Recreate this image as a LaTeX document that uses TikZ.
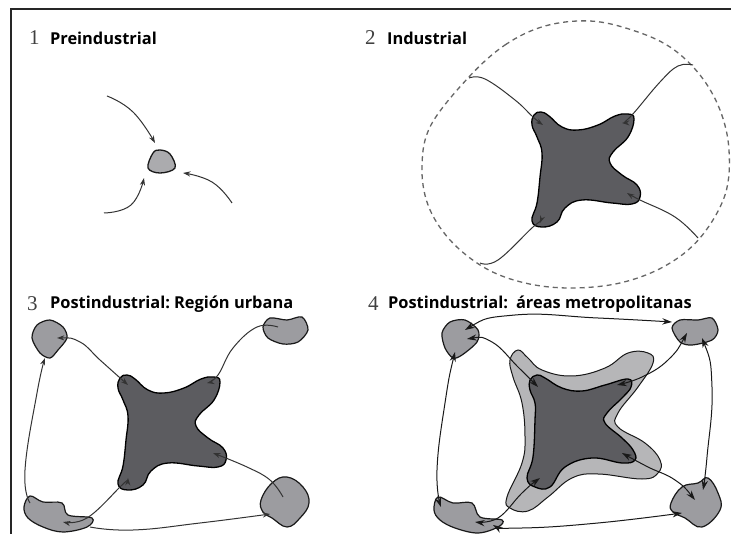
\documentclass[tikz,border=0pt]{standalone}
\usepackage{fontspec}
\setmainfont{Liberation Serif}
\newfontfamily\labfont{Open Sans}
\usetikzlibrary{arrows.meta,positioning}
\definecolor{citydark}{HTML}{5C5C60}
\definecolor{citysat}{HTML}{9C9CA0}
\definecolor{cityring}{HTML}{B6B6B8}
\tikzset{
  num/.style  ={anchor=west, inner sep=0pt, font=\fontsize{21}{21}\selectfont, text=black!75},
  lab/.style  ={anchor=west, inner sep=0pt, font=\labfont\bfseries\fontsize{16.4}{18}\selectfont, text=black},
  core/.style ={draw=black, line width=1.3pt, fill=citydark},
  sat/.style  ={draw=black!90, line width=1.2pt, fill=citysat},
  ring/.style ={draw=black!90, line width=1pt, fill=cityring},
  lnk/.style  ={draw=black!80, line width=1pt},
  ar/.style   ={-{Stealth[length=2.6mm,width=1.8mm]}, lnk},
  bar/.style  ={{Stealth[length=3.4mm,width=2.2mm]}-{Stealth[length=3.4mm,width=2.2mm]}, draw=black!90, line width=1pt},
}
\newcommand{\corecity}{plot[smooth cycle,tension=.75] coordinates {(532,125) (534,115) (541,112) (549,116) (562,127)
  (578,130) (598,125) (615,116) (628,114) (634,119) (628,137) (613,152) (610,163) (622,175) (637,185)
  (640,197) (632,204) (612,203) (582,200) (565,208) (557,222) (542,227) (532,221) (537,203) (540,177)
  (542,153) (537,137)}}
\begin{document}
\begin{tikzpicture}[x=1pt,y=-1pt]
\useasboundingbox (0,0) rectangle (731,534);
\fill[white] (0,0) rectangle (731,534);

% frame
\coordinate (fa) at (11,534); \coordinate (fb) at (11,9); \coordinate (fc) at (731,9);
\draw[black!85, line width=2.4pt] (fa)--(fb)--(fc);

% titles
\node[num] (n1) at (29,38) {1};
\node[lab, right=10pt of n1.east, anchor=west] (t1) {Preindustrial};
\node[num] (n2) at (365,38) {2};
\node[lab, right=11pt of n2.east, anchor=west] (t2) {Industrial};
\node[num] (n3) at (27,304) {3};
\node[lab, right=12pt of n3.east, anchor=west] (t3) {Postindustrial:\hspace{4pt}Región urbana};
\node[num] (n4) at (368,304) {4};
\node[lab, right=9pt of n4.east, anchor=west] (t4) {Postindustrial:\hspace{8pt}áreas metropolitanas};

% 1
\draw[sat, line width=1.3pt, fill=citysat!85] plot[smooth cycle,tension=.6] coordinates {(148,168) (153,153) (160,150) (170,154) (175,168) (160,173)};
\coordinate (p1a) at (107,96);  \coordinate (p1b) at (155,143);
\coordinate (p1c) at (232,203); \coordinate (p1d) at (183,173);
\coordinate (p1e) at (104,213); \coordinate (p1f) at (144,178);
\draw[ar] plot[smooth,tension=.8] coordinates {(p1a) (133,112) (p1b)};
\draw[ar] plot[smooth,tension=.8] coordinates {(p1c) (212,182) (p1d)};
\draw[ar] plot[smooth,tension=.8] coordinates {(p1e) (131,205) (p1f)};

% 2
\draw[core] \corecity;
\draw[black!60, line width=1.3pt, dash pattern=on 5pt off 4pt] plot[smooth cycle,tension=.6] coordinates {(468,78) (505,45)
  (545,26) (590,21) (632,30) (670,47) (700,75) (720,110) (729,150) (725,195) (700,238) (665,266) (620,283)
  (570,288) (525,283) (485,268) (450,240) (428,205) (422,165) (431,125)};
\coordinate (p2a) at (469,78);  \coordinate (p2b) at (543,125);
\coordinate (p2c) at (693,65);  \coordinate (p2d) at (622,123);
\coordinate (p2e) at (698,238); \coordinate (p2f) at (627,193);
\coordinate (p2g) at (480,263); \coordinate (p2h) at (540,223);
\draw[ar] plot[smooth,tension=.7] coordinates {(p2a) (485,79) (515,100) (533,117) (p2b)};
\draw[ar] plot[smooth,tension=.7] coordinates {(p2c) (678,66) (660,82) (632,115) (p2d)};
\draw[ar] plot[smooth,tension=.7] coordinates {(p2e) (675,217) (640,200) (p2f)};
\draw[ar] plot[smooth,tension=.7] coordinates {(p2g) (498,260) (533,227) (p2h)};

% 3
\draw[core, shift={(-414,263)}] \corecity;
\draw[sat] plot[smooth cycle] coordinates {(32,338) (37,325) (50,320) (63,327) (67,338) (58,350) (50,358) (40,353)};
\draw[sat] plot[smooth cycle] coordinates {(263,327) (270,318) (287,320) (302,317) (308,330) (298,342) (283,344) (268,338)};
\draw[sat] plot[smooth cycle,tension=.6] coordinates {(24,507) (30,496) (43,502) (62,503) (68,515) (92,518) (87,527) (63,532) (43,527) (28,518)};
\draw[sat] plot[smooth cycle,tension=.7] coordinates {(261,500) (272,483) (287,477) (303,487) (309,503) (300,518) (287,527) (272,518) (263,512)};
\coordinate (p3a) at (57,338);  \coordinate (p3b) at (128,385);
\coordinate (p3c) at (278,327); \coordinate (p3d) at (207,383);
\coordinate (p3e) at (283,497); \coordinate (p3f) at (213,453);
\coordinate (p3g) at (128,478); \coordinate (p3h) at (63,522);
\coordinate (p3i) at (45,358);  \coordinate (p3j) at (30,503);
\coordinate (p3k) at (90,527);  \coordinate (p3l) at (270,514);
\draw[<->, >={Stealth[length=2.6mm,width=1.8mm]}, lnk] plot[smooth,tension=.7] coordinates {(p3a) (80,342) (100,360) (p3b)};
\draw[ar] plot[smooth,tension=.7] coordinates {(p3c) (257,327) (233,348) (218,375) (p3d)};
\draw[ar] plot[smooth,tension=.7] coordinates {(p3e) (270,480) (247,467) (p3f)};
\draw[<->, >={Stealth[length=2.6mm,width=1.8mm]}, lnk] plot[smooth,tension=.7] coordinates {(p3g) (120,487) (87,518) (p3h)};
\draw[ar] plot[smooth,tension=.8] coordinates {(p3j) (25,470) (37,393) (p3i)};
\draw[ar] plot[smooth,tension=.8] coordinates {(p3k) (133,530) (200,523) (p3l)};

% 4
\draw[ring] plot[smooth cycle,tension=.7] coordinates {(510,360) (518,350) (528,358) (542,370) (572,376) (605,368)
  (628,353) (648,353) (653,363) (638,387) (618,413) (618,427) (645,443) (660,460) (658,473) (642,479)
  (598,474) (572,478) (548,497) (528,511) (510,508) (507,497) (522,463) (525,437) (522,403) (513,377)};
\draw[core] plot[smooth cycle,tension=.7] coordinates {(530,380) (537,375) (545,378) (562,388) (582,391) (605,385)
  (628,379) (631,387) (622,398) (607,413) (605,423) (622,438) (633,450) (635,460) (622,463) (592,458)
  (565,467) (550,487) (535,487) (527,478) (533,457) (535,420) (535,403) (530,390)};
\draw[sat] plot[smooth cycle] coordinates {(442,333) (450,322) (465,320) (478,330) (477,342) (462,355) (453,358) (445,348)};
\draw[sat] plot[smooth cycle] coordinates {(672,328) (680,320) (698,320) (712,318) (718,330) (712,340) (692,345) (680,342)};
\draw[sat] plot[smooth cycle,tension=.6] coordinates {(434,510) (438,497) (453,503) (472,503) (480,517) (502,520) (498,527) (478,533) (455,528) (440,520)};
\draw[sat] plot[smooth cycle,tension=.7] coordinates {(671,503) (682,487) (698,483) (708,478) (718,493) (720,510) (702,527) (685,518) (673,512)};
\coordinate (p4a) at (465,330); \coordinate (p4b) at (672,322);
\coordinate (p4c) at (467,339); \coordinate (p4d) at (538,387);
\coordinate (p4e) at (687,333); \coordinate (p4f) at (617,385);
\coordinate (p4g) at (702,338); \coordinate (p4h) at (703,490);
\coordinate (p4i) at (695,500); \coordinate (p4j) at (622,453);
\coordinate (p4k) at (540,478); \coordinate (p4l) at (475,522);
\coordinate (p4m) at (493,525); \coordinate (p4n) at (682,513);
\coordinate (p4o) at (455,352); \coordinate (p4p) at (441,507);
\draw[bar] plot[smooth,tension=.8] coordinates {(p4a) (515,315) (598,318) (p4b)};
\draw[bar] plot[smooth,tension=.7] coordinates {(p4c) (492,342) (518,367) (p4d)};
\draw[bar] plot[smooth,tension=.7] coordinates {(p4e) (668,360) (642,377) (p4f)};
\draw[bar] plot[smooth,tension=.8] coordinates {(p4g) (712,387) (707,457) (p4h)};
\draw[bar] plot[smooth,tension=.7] coordinates {(p4i) (675,480) (648,467) (p4j)};
\draw[bar] plot[smooth,tension=.7] coordinates {(p4k) (522,493) (498,518) (p4l)};
\draw[bar] plot[smooth,tension=.8] coordinates {(p4m) (522,528) (598,523) (p4n)};
\draw[bar] plot[smooth,tension=.8] coordinates {(p4o) (445,403) (437,470) (p4p)};
\end{tikzpicture}
\end{document}
